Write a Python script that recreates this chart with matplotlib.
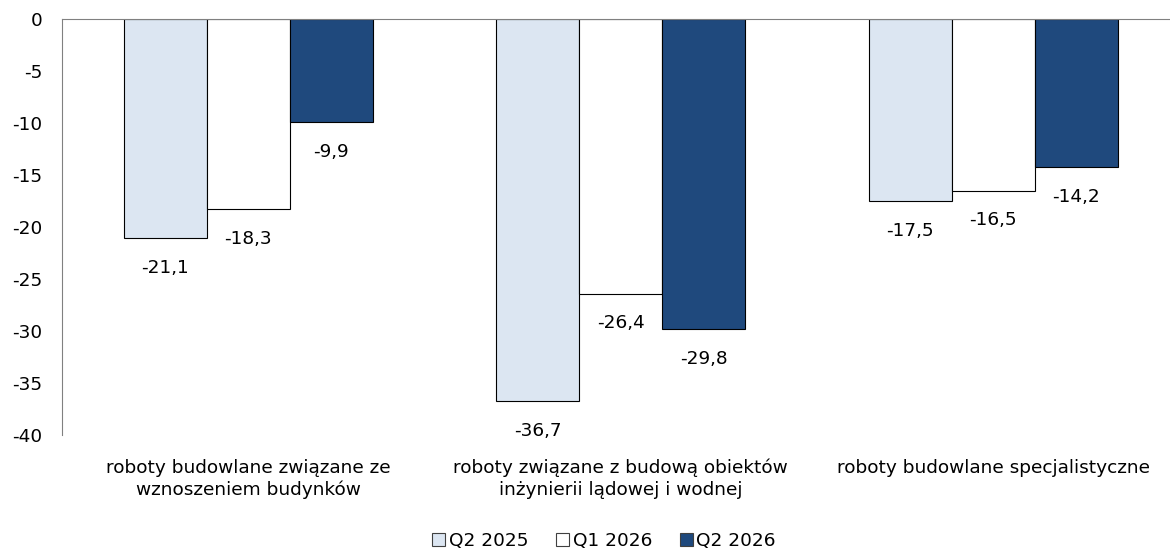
import numpy as np
import matplotlib.pyplot as plt
from matplotlib.patches import Patch

categories = ['roboty budowlane związane ze\nwznoszeniem budynków',
              'roboty związane z budową obiektów\ninżynierii lądowej i wodnej',
              'roboty budowlane specjalistyczne']
series = ['Q2 2025', 'Q1 2026', 'Q2 2026']
q2_2025 = [-21.1, -36.7, -17.5]
q1_2026 = [-18.3, -26.4, -16.5]
q2_2026 = [-9.9, -29.8, -14.2]
colors = ['#DCE6F2', '#FFFFFF', '#1F497D']

plt.rcParams['font.family'] = ['DejaVu Sans']
plt.rcParams['axes.unicode_minus'] = False

fs = 13.3
fig = plt.figure(figsize=(11.7, 5.53), dpi=100)
ax = fig.add_axes([62 / 1170, 118 / 553, 1117.5 / 1170, 416 / 553])

x = np.arange(len(categories))
w = 0.2225
for i, (vals, col) in enumerate(zip([q2_2025, q1_2026, q2_2026], colors)):
    pos = x + (i - 1) * w
    ax.bar(pos, vals, width=w, color=col, edgecolor='#000000', linewidth=0.8, zorder=2)
    # value labels under each bar, Polish decimal comma
    for p, v in zip(pos, vals):
        ax.annotate(f'{v:.1f}'.replace('.', ','), (p, v), xytext=(0, -15),
                    textcoords='offset points', ha='center', va='top', fontsize=fs)

ax.set_xlim(-0.5, 2.5)
ax.set_ylim(-40, 0)
ax.set_yticks(range(-40, 1, 5))
ax.tick_params(axis='y', length=0, labelsize=fs, pad=14)
ax.set_xticks(x)
ax.set_xticklabels(categories, fontsize=fs, linespacing=1.25)
ax.tick_params(axis='x', length=0, pad=17)
ax.spines['right'].set_visible(False)
ax.spines['bottom'].set_visible(False)
ax.spines['top'].set_color('#808080')
ax.spines['left'].set_color('#808080')

handles = [Patch(facecolor=c, edgecolor='#404040', linewidth=0.8) for c in colors]
fig.legend(handles, series, loc='center', bbox_to_anchor=(604 / 1170, 1 - 541 / 553),
           ncol=3, frameon=False, fontsize=fs, handlelength=0.7, handleheight=0.7,
           handletextpad=0.2, columnspacing=1.5)

fig.savefig('out.png', dpi=100)
